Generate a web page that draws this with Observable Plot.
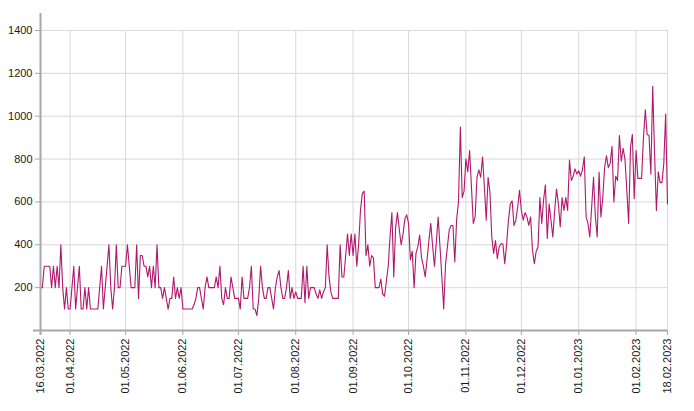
<!DOCTYPE html>
<html>
<head>
<meta charset="utf-8">
<script src="https://cdn.jsdelivr.net/npm/d3@7"></script>
<script src="https://cdn.jsdelivr.net/npm/@observablehq/plot@0.6"></script>
<style>
  body { margin: 0; background: #fff; }
  #chart svg { display: block; }
</style>
</head>
<body>
<div id="chart"></div>
<script>
// First day of the daily series
const startDate = "2022-03-16";
const endDate = "2023-02-18";

// Daily values, 16.03.2022 .. 18.02.2023 (340 days)
const values = [
  200,200,300,300,300,300,200,300,200,300,
  200,400,200,100,200,100,100,200,300,100,
  200,300,100,100,200,100,200,100,100,100,
  100,100,200,300,100,200,300,400,200,100,
  200,400,200,200,300,300,300,400,300,200,
  200,200,400,150,350,350,300,300,250,300,
  200,300,200,400,200,200,150,200,150,100,
  150,150,250,150,200,150,200,100,100,100,
  100,100,100,120,150,200,200,150,100,200,
  250,200,200,200,200,250,200,300,150,120,
  200,150,150,250,200,150,150,150,100,250,
  150,150,150,200,300,100,100,70,150,300,
  200,150,150,200,200,150,100,200,250,280,
  200,150,150,200,280,150,200,150,180,150,
  150,150,300,130,300,150,200,200,200,170,
  150,190,150,180,200,400,250,180,150,150,
  150,150,400,250,250,350,450,350,450,350,
  450,300,400,560,640,650,350,400,300,350,
  340,200,200,200,240,170,160,230,300,440,
  550,250,480,550,470,400,450,520,540,500,
  330,370,200,360,390,445,340,300,250,330,
  420,500,395,300,410,530,390,250,100,310,
  390,470,490,490,320,520,600,950,620,650,
  800,740,840,670,500,530,715,750,715,810,
  670,515,715,645,436,360,420,335,390,405,
  405,312,400,515,590,605,490,515,575,654,
  560,515,550,530,490,530,375,312,370,390,
  620,500,610,680,430,590,515,436,560,660,
  590,483,620,560,620,560,795,700,720,754,
  730,745,720,750,810,530,500,436,575,715,
  530,436,740,530,620,760,815,760,780,860,
  600,720,700,910,790,850,800,655,500,855,
  915,615,840,710,710,710,900,1030,915,910,
  730,1140,830,560,740,690,690,780,1010,590
];

// Tick labels on the time axis
const tickDates = [
  "2022-03-16","2022-04-01","2022-05-01","2022-06-01","2022-07-01","2022-08-01",
  "2022-09-01","2022-10-01","2022-11-01","2022-12-01","2023-01-01","2023-02-01","2023-02-18"
];
// Tick labels on the value axis
const yTicks = [200, 400, 600, 800, 1000, 1200, 1400];

const start = new Date(startDate);
const end = new Date(endDate);
const data = values.map((v, i) => ({ date: d3.utcDay.offset(start, i), value: v }));
const ticks = tickDates.map(s => new Date(s));
const fmt = d3.utcFormat("%d.%m.%Y");

const axisColor = "#a8a8a8";
const gridColor = "#d9d9d9";
const lineColor = "#b0186c";

const chart = Plot.plot({
  width: 694,
  height: 411,
  marginLeft: 40,
  marginRight: 27,
  marginTop: 30,
  marginBottom: 81,
  style: { fontFamily: "Arial, 'Liberation Sans', sans-serif", fontSize: "11px", color: "#1a1a1a", background: "#fff" },
  x: { type: "utc", domain: [start, end] },
  y: { domain: [0, 1400] },
  marks: [
    Plot.ruleY(yTicks, { stroke: gridColor, strokeWidth: 1 }),
    Plot.ruleX(ticks.slice(1), { y1: 0, y2: 1400, stroke: gridColor, strokeWidth: 1 }),
    Plot.lineY(data, { x: "date", y: "value", stroke: lineColor, strokeWidth: 1.1 }),
    Plot.ruleX([start], { stroke: axisColor, strokeWidth: 2, insetTop: -17, insetBottom: -5 }),
    Plot.ruleY([0], { stroke: axisColor, strokeWidth: 2, insetLeft: -7 }),
    Plot.axisY(yTicks, { tickFormat: d => String(d), tickSize: 5, tickPadding: 3, stroke: axisColor, fill: "#1a1a1a", label: null }),
    Plot.axisX(ticks, { tickFormat: fmt, tickRotate: -90, tickSize: 5, tickPadding: 3, stroke: axisColor, fill: "#1a1a1a", label: null })
  ]
});
document.getElementById("chart").appendChild(chart);
</script>
</body>
</html>
